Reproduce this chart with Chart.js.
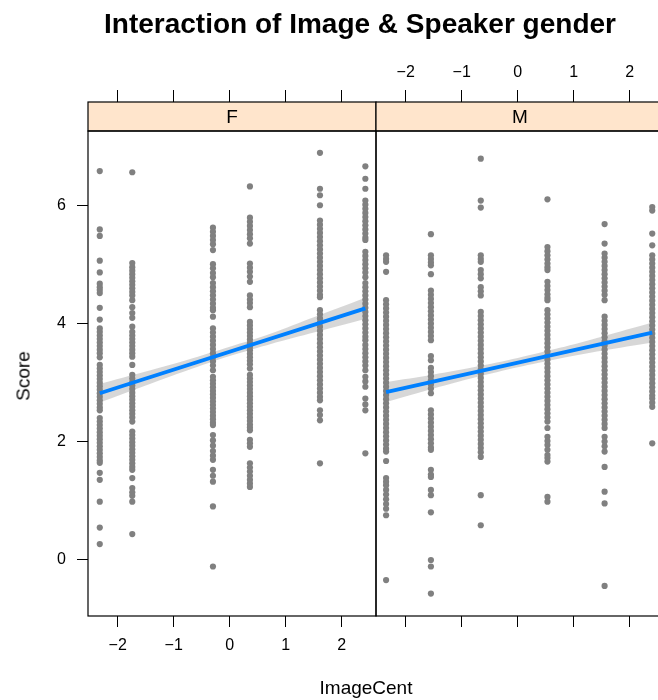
<!DOCTYPE html>
<html>
<head>
<meta charset="utf-8">
<script src="https://cdn.jsdelivr.net/npm/chart.js@4.4.1/dist/chart.umd.min.js"></script>
<style>
  html, body { margin: 0; padding: 0; background: #fff; overflow: hidden; }
  #wrap { position: relative; width: 658px; height: 700px; overflow: hidden;
          font-family: "Liberation Sans", Arial, Helvetica, sans-serif; color: #000; }
  canvas { position: absolute; top: 0; }
  #cF { left: 0; }
  #cM { left: 372px; }
  .lbl { position: absolute; white-space: nowrap; line-height: 1; }
  #title { left: 360px; top: 10px; transform: translateX(-50%); font-weight: bold; font-size: 28px; }
  #xlab { left: 366px; top: 678px; transform: translateX(-50%); font-size: 19px; }
  #ylab { left: 23px; top: 376px; transform: translate(-50%, -50%) rotate(-90deg); font-size: 19px; }
</style>
</head>
<body>
<div id="wrap">
  <canvas id="cF" width="380" height="700"></canvas>
  <canvas id="cM" width="300" height="700"></canvas>
  <div id="title" class="lbl">Interaction of Image &amp; Speaker gender</div>
  <div id="xlab" class="lbl">ImageCent</div>
  <div id="ylab" class="lbl">Score</div>
</div>
<script>
// Panel labels (Speaker gender)
const panels = ['F', 'M'];

// Axis ticks
const xTicks = [-2, -1, 0, 1, 2];
const yTicks = [0, 2, 4, 6];

// Centred image values observed in each panel
const xF = [-2.32, -1.74, -0.30, 0.36, 1.61, 2.42];
const xM = [-2.35, -1.55, -0.66, 0.53, 1.55, 2.40];

// Scores, one array per image value — female speakers
const scoreF1 = [6.59, 5.60, 5.49, 5.07, 4.87, 4.68, 4.62, 4.57, 4.52, 4.27, 4.07, 3.92, 3.86, 3.80, 3.74, 3.68, 3.62, 3.56, 3.50, 3.43,
  3.30, 3.24, 3.18, 3.12, 3.06, 3.00, 2.94, 2.88, 2.82, 2.76, 2.70, 2.64, 2.58, 2.53, 2.40, 2.34, 2.28, 2.22, 2.16, 2.10,
  2.04, 1.98, 1.92, 1.86, 1.80, 1.74, 1.68, 1.64, 1.47, 1.35, 0.98, 0.54, 0.26];
const scoreF2 = [6.57, 5.03, 4.96, 4.90, 4.84, 4.78, 4.72, 4.66, 4.60, 4.54, 4.48, 4.40, 4.28, 4.18, 4.10, 3.95, 3.86, 3.80, 3.74, 3.68,
  3.62, 3.56, 3.50, 3.44, 3.30, 3.13, 3.07, 3.01, 2.95, 2.89, 2.83, 2.77, 2.71, 2.65, 2.59, 2.53, 2.47, 2.41, 2.34, 2.17,
  2.11, 2.05, 1.99, 1.93, 1.87, 1.81, 1.75, 1.69, 1.63, 1.57, 1.52, 1.38, 1.21, 1.14, 1.08, 0.98, 0.43];
const scoreF3 = [5.63, 5.56, 5.49, 5.42, 5.35, 5.25, 5.01, 4.94, 4.86, 4.79, 4.69, 4.62, 4.55, 4.48, 4.41, 4.34, 4.27, 4.23, 4.12, 3.92,
  3.85, 3.78, 3.71, 3.64, 3.57, 3.50, 3.43, 3.36, 3.29, 3.21, 3.10, 3.04, 2.98, 2.92, 2.86, 2.80, 2.74, 2.68, 2.62, 2.56,
  2.50, 2.44, 2.38, 2.32, 2.28, 2.11, 2.02, 1.93, 1.84, 1.76, 1.69, 1.52, 1.42, 1.32, 0.90, -0.12];
const scoreF4 = [6.33, 5.80, 5.73, 5.66, 5.59, 5.52, 5.45, 5.36, 5.02, 4.95, 4.88, 4.80, 4.71, 4.48, 4.41, 4.35, 4.28, 4.03, 3.97, 3.91,
  3.85, 3.79, 3.73, 3.67, 3.61, 3.55, 3.49, 3.43, 3.37, 3.31, 3.24, 3.13, 3.07, 3.01, 2.95, 2.89, 2.83, 2.77, 2.71, 2.65,
  2.59, 2.53, 2.47, 2.41, 2.35, 2.29, 2.24, 2.19, 2.03, 1.97, 1.91, 1.63, 1.56, 1.49, 1.42, 1.35, 1.29, 1.23];
const scoreF5 = [6.90, 6.29, 6.18, 6.01, 5.75, 5.68, 5.61, 5.54, 5.47, 5.40, 5.33, 5.26, 5.19, 5.12, 5.05, 4.98, 4.91, 4.84, 4.77, 4.70,
  4.63, 4.56, 4.49, 4.45, 4.23, 4.16, 4.09, 4.02, 3.95, 3.88, 3.81, 3.74, 3.67, 3.60, 3.53, 3.46, 3.39, 3.32, 3.25, 3.18,
  3.11, 3.04, 2.97, 2.90, 2.83, 2.76, 2.70, 2.53, 2.45, 2.36, 1.63];
const scoreF6 = [6.67, 6.46, 6.29, 6.09, 6.02, 5.95, 5.88, 5.81, 5.74, 5.67, 5.60, 5.53, 5.46, 5.42, 5.22, 5.15, 5.08, 5.01, 4.94, 4.87,
  4.79, 4.69, 4.62, 4.55, 4.48, 4.41, 4.34, 4.27, 4.20, 4.13, 4.06, 3.99, 3.92, 3.85, 3.78, 3.72, 3.64, 3.57, 3.50, 3.43,
  3.36, 3.29, 3.21, 3.10, 3.02, 2.93, 2.73, 2.63, 2.53, 1.80];

// Scores, one array per image value — male speakers
const scoreM1 = [5.16, 5.10, 5.05, 4.88, 4.40, 4.33, 4.26, 4.19, 4.12, 4.05, 3.98, 3.91, 3.84, 3.77, 3.70, 3.63, 3.56, 3.49, 3.42, 3.35,
  3.28, 3.21, 3.14, 3.07, 3.00, 2.93, 2.86, 2.79, 2.72, 2.65, 2.58, 2.51, 2.44, 2.37, 2.30, 2.23, 2.16, 2.09, 2.02, 1.95,
  1.88, 1.83, 1.67, 1.38, 1.32, 1.26, 1.18, 1.10, 1.02, 0.94, 0.86, 0.75, -0.35];
const scoreM2 = [5.52, 5.16, 5.10, 5.04, 4.99, 4.84, 4.56, 4.49, 4.42, 4.35, 4.28, 4.21, 4.14, 4.07, 4.00, 3.93, 3.86, 3.79, 3.72, 3.45,
  3.38, 3.25, 3.18, 3.11, 3.04, 2.97, 2.90, 2.82, 2.53, 2.46, 2.39, 2.32, 2.25, 2.18, 2.11, 2.04, 1.97, 1.90, 1.86, 1.52,
  1.44, 1.40, 1.18, 1.09, 0.80, -0.01, -0.12, -0.58];
const scoreM3 = [6.80, 6.09, 5.97, 5.16, 5.10, 5.05, 4.91, 4.84, 4.77, 4.62, 4.55, 4.48, 4.20, 4.13, 4.06, 3.99, 3.92, 3.85, 3.78, 3.71,
  3.64, 3.57, 3.50, 3.43, 3.36, 3.29, 3.22, 3.15, 3.08, 3.01, 2.94, 2.87, 2.80, 2.73, 2.66, 2.59, 2.52, 2.45, 2.38, 2.31,
  2.24, 2.17, 2.10, 2.03, 1.96, 1.89, 1.82, 1.74, 1.09, 0.58];
const scoreM4 = [6.11, 5.30, 5.23, 5.16, 5.09, 5.02, 4.96, 4.91, 4.71, 4.64, 4.57, 4.50, 4.44, 4.40, 4.23, 4.16, 4.09, 4.02, 3.95, 3.88,
  3.81, 3.74, 3.67, 3.60, 3.53, 3.46, 3.39, 3.32, 3.25, 3.18, 3.11, 3.04, 2.97, 2.90, 2.83, 2.76, 2.69, 2.62, 2.55, 2.48,
  2.41, 2.34, 2.23, 2.08, 2.01, 1.94, 1.86, 1.77, 1.72, 1.66, 1.06, 0.98];
const scoreM5 = [5.69, 5.36, 5.19, 5.12, 5.05, 4.98, 4.91, 4.84, 4.77, 4.70, 4.63, 4.56, 4.49, 4.40, 4.12, 4.05, 3.98, 3.91, 3.84, 3.77,
  3.70, 3.63, 3.56, 3.49, 3.42, 3.35, 3.28, 3.21, 3.14, 3.07, 3.00, 2.93, 2.86, 2.79, 2.72, 2.65, 2.58, 2.51, 2.44, 2.37,
  2.30, 2.23, 2.08, 2.00, 1.92, 1.83, 1.57, 1.15, 0.95, -0.45];
const scoreM6 = [5.98, 5.92, 5.53, 5.33, 5.16, 5.09, 5.02, 4.95, 4.88, 4.81, 4.74, 4.67, 4.60, 4.53, 4.46, 4.39, 4.32, 4.25, 4.18, 4.11,
  4.04, 3.97, 3.90, 3.83, 3.76, 3.69, 3.62, 3.55, 3.48, 3.41, 3.34, 3.27, 3.20, 3.13, 3.06, 2.99, 2.92, 2.85, 2.78, 2.73,
  2.66, 2.59, 1.97];

// Fitted regression line ends and its confidence band
const fitXF = [-2.32, 2.42];
const fitYF = [2.82, 4.26];
const fitXM = [-2.35, 2.40];
const fitYM = [2.84, 3.85];
const bandXF = [-2.32, -1.5, -0.75, 0, 0.75, 1.5, 2.42];
const bandHiF = [2.98, 3.19, 3.39, 3.61, 3.84, 4.11, 4.44];
const bandLoF = [2.66, 2.95, 3.21, 3.45, 3.66, 3.85, 4.08];
const bandXM = [-2.35, -1.5, -0.75, 0, 0.75, 1.5, 2.40];
const bandHiM = [3.01, 3.14, 3.27, 3.42, 3.59, 3.78, 4.02];
const bandLoM = [2.67, 2.90, 3.09, 3.26, 3.41, 3.54, 3.68];

// Axis ranges
const xMin = -2.53, xMax = 2.61;
const yMin = -0.96, yMax = 7.27;

const colsF = [scoreF1, scoreF2, scoreF3, scoreF4, scoreF5, scoreF6];
const colsM = [scoreM1, scoreM2, scoreM3, scoreM4, scoreM5, scoreM6];

const FONT = '"Liberation Sans", Arial, Helvetica, sans-serif';
Chart.defaults.font.family = FONT;
Chart.defaults.color = '#000';

const POINT = '#808080';
const BLUE = '#0080ff';
const BAND = 'rgba(150,150,150,0.38)';
const STRIP = '#ffe5cc';

const toPts = (xs, ys) => xs.map((x, i) => ({ x, y: ys[i] }));
const colPts = (xs, cols) => cols.flatMap((col, i) => col.map(y => ({ x: xs[i], y })));
const fmt = v => (v < 0 ? '\u2212' + Math.abs(v) : String(v));
const setTicks = list => axis => { axis.ticks = list.map(v => ({ value: v })); };

// Panel frame and the strip holding the panel name
const framePlugin = {
  id: 'frame',
  afterDraw(chart, args, opts) {
    const { ctx, chartArea: a } = chart;
    const sh = 29;
    ctx.save();
    ctx.fillStyle = STRIP;
    ctx.fillRect(a.left, a.top - sh, a.right - a.left, sh);
    ctx.strokeStyle = '#000';
    ctx.lineWidth = 1.2;
    ctx.strokeRect(a.left, a.top - sh, a.right - a.left, sh);
    ctx.strokeRect(a.left, a.top, a.right - a.left, a.bottom - a.top);
    ctx.fillStyle = '#000';
    ctx.font = '19px ' + FONT;
    ctx.textAlign = 'center';
    ctx.textBaseline = 'middle';
    ctx.fillText(opts.label, (a.left + a.right) / 2, a.top - sh / 2 + 1);
    ctx.restore();
  }
};

function xAxis(position, showLabels, height, tickLen, pad) {
  return {
    type: 'linear', position, min: xMin, max: xMax,
    afterBuildTicks: setTicks(xTicks),
    afterFit: s => { s.height = height; },
    grid: { drawOnChartArea: false, drawTicks: true, tickLength: tickLen, color: '#000', lineWidth: 1 },
    border: { display: false },
    ticks: { display: showLabels, padding: pad, font: { size: 16 }, color: '#000',
             maxRotation: 0, autoSkip: false, callback: v => fmt(v) }
  };
}

function panelConfig(name, xs, cols, fitX, fitY, bandX, hi, lo, isFirst) {
  return {
    type: 'scatter',
    data: {
      datasets: [
        { type: 'line', data: toPts(fitX, fitY), borderColor: BLUE, borderWidth: 3.8,
          pointRadius: 0, fill: false, tension: 0 },
        { type: 'scatter', data: colPts(xs, cols), backgroundColor: POINT, borderWidth: 0,
          pointRadius: 3.1, pointHoverRadius: 3.1 },
        { type: 'line', data: toPts(bandX, hi), borderWidth: 0, borderColor: 'rgba(0,0,0,0)',
          backgroundColor: BAND, pointRadius: 0, fill: '+1', tension: 0.3 },
        { type: 'line', data: toPts(bandX, lo), borderWidth: 0, borderColor: 'rgba(0,0,0,0)',
          pointRadius: 0, fill: false, tension: 0.3 }
      ]
    },
    options: {
      responsive: false,
      animation: false,
      events: [],
      layout: { padding: isFirst ? { left: 0, right: 4, top: 0, bottom: 0 } : { left: 4, right: 8, top: 0, bottom: 0 } },
      plugins: { legend: { display: false }, tooltip: { enabled: false }, frame: { label: name } },
      scales: {
        x: xAxis('bottom', isFirst, 84, 11, 9),
        xTop: xAxis('top', !isFirst, 131, 41, 8),
        y: {
          type: 'linear', position: 'left', min: yMin, max: yMax, display: isFirst,
          afterBuildTicks: setTicks(yTicks),
          afterFit: s => { s.width = isFirst ? 88 : 0; },
          grid: { drawOnChartArea: false, drawTicks: true, tickLength: 11, color: '#000', lineWidth: 1 },
          border: { display: false },
          ticks: { padding: 11, font: { size: 16 }, color: '#000', callback: v => fmt(v) }
        }
      }
    },
    plugins: [framePlugin]
  };
}

new Chart(document.getElementById('cF'),
  panelConfig(panels[0], xF, colsF, fitXF, fitYF, bandXF, bandHiF, bandLoF, true));
new Chart(document.getElementById('cM'),
  panelConfig(panels[1], xM, colsM, fitXM, fitYM, bandXM, bandHiM, bandLoM, false));
</script>
</body>
</html>
